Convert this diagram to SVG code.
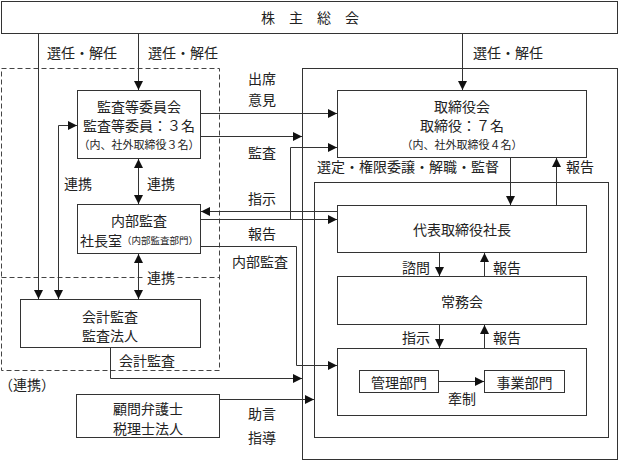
<svg xmlns="http://www.w3.org/2000/svg" width="621" height="462" viewBox="0 0 621 462">
<style>
text{font-family:"Noto Sans CJK JP","Noto Sans CJK SC",sans-serif;fill:#222;font-size:14px;text-anchor:middle;dominant-baseline:central}
.sm{font-size:11px}
.xs{font-size:9.5px}
.box{fill:#fff;stroke:#333;stroke-width:1}
.frame{fill:none;stroke:#333;stroke-width:1}
.dash{fill:none;stroke:#444;stroke-width:1;stroke-dasharray:5 3}
.c{fill:none;stroke:#333;stroke-width:1;marker-end:url(#ah)}
.b{fill:none;stroke:#333;stroke-width:1;marker-end:url(#ah);marker-start:url(#ah)}
</style>
<defs>
<marker id="ah" markerUnits="userSpaceOnUse" markerWidth="9" markerHeight="9" refX="9" refY="4.5" orient="auto-start-reverse">
<path d="M0,0 L9,4.5 L0,9 z" fill="#111"/>
</marker>
</defs>
<rect width="621" height="462" fill="#fff"/>

<g id="frames">
<rect class="frame" x="302.5" y="68.5" width="315" height="391"/>
<rect class="frame" x="314.5" y="182.5" width="294" height="255"/>
<rect class="dash" x="1.5" y="68.5" width="218" height="302"/>
<line class="dash" x1="1.5" y1="277.5" x2="219.5" y2="277.5"/>
</g>

<g id="shareholders">
<rect class="box" x="1.5" y="1.5" width="616" height="32"/>
<text x="310" y="17">株　主　総　会</text>
</g>

<g id="audit-committee">
<rect class="box" x="77.5" y="90.5" width="123" height="68"/>
<text x="139" y="106">監査等委員会</text>
<text x="139" y="125">監査等委員：３名</text>
<text class="sm" x="139" y="144">（内、社外取締役３名）</text>
</g>

<g id="board">
<rect class="box" x="337.5" y="90.5" width="249" height="67"/>
<text x="462" y="106">取締役会</text>
<text x="462" y="125">取締役：７名</text>
<text class="sm" x="462" y="144">（内、社外取締役４名）</text>
</g>

<g id="internal-audit">
<rect class="box" x="77.5" y="204.5" width="123" height="49"/>
<text x="139" y="220">内部監査</text>
<text x="139" y="240">社長室<tspan class="xs">（内部監査部門）</tspan></text>
</g>

<g id="accounting-audit">
<rect class="box" x="20.5" y="299.5" width="180" height="48"/>
<text x="110" y="316">会計監査</text>
<text x="110" y="335">監査法人</text>
</g>

<g id="advisors">
<rect class="box" x="76.5" y="394.5" width="143" height="43"/>
<text x="148" y="408">顧問弁護士</text>
<text x="148" y="428">税理士法人</text>
</g>

<g id="president">
<rect class="box" x="337.5" y="205.5" width="249" height="47"/>
<text x="462" y="229">代表取締役社長</text>
</g>

<g id="executive-committee">
<rect class="box" x="337.5" y="276.5" width="249" height="48"/>
<text x="462" y="301">常務会</text>
</g>

<g id="departments">
<rect class="box" x="337.5" y="348.5" width="249" height="67"/>
</g>

<g id="admin-dept">
<rect class="box" x="359.5" y="370.5" width="79" height="22"/>
<text x="399" y="381.5">管理部門</text>
</g>

<g id="business-dept">
<rect class="box" x="484.5" y="370.5" width="80" height="22"/>
<text x="524.5" y="381.5">事業部門</text>
</g>

<g id="connectors">
<line class="c" x1="38.5" y1="34" x2="38.5" y2="299"/>
<line class="c" x1="138.5" y1="34" x2="138.5" y2="90"/>
<line class="c" x1="462.5" y1="34" x2="462.5" y2="90"/>
<path class="b" d="M58.5,299 L58.5,125.5 L77,125.5"/>
<line class="b" x1="138.5" y1="159" x2="138.5" y2="204"/>
<line class="b" x1="138.5" y1="254" x2="138.5" y2="299"/>
<line class="c" x1="201" y1="113.5" x2="337" y2="113.5"/>
<line class="c" x1="201" y1="136.5" x2="302" y2="136.5"/>
<line class="c" x1="337" y1="211.5" x2="201" y2="211.5"/>
<line class="c" x1="201" y1="219.5" x2="337" y2="219.5"/>
<path class="c" d="M290.5,219.5 L290.5,147.5 L337,147.5"/>
<path class="c" d="M201,246.5 L296.5,246.5 L296.5,365.5 L337,365.5"/>
<path class="c" d="M110.5,348 L110.5,378.5 L302,378.5"/>
<line class="c" x1="220" y1="399.5" x2="314" y2="399.5"/>
<line class="c" x1="510.5" y1="158" x2="510.5" y2="205"/>
<line class="c" x1="556.5" y1="205" x2="556.5" y2="158"/>
<line class="c" x1="439.5" y1="253" x2="439.5" y2="276"/>
<line class="c" x1="484.5" y1="276" x2="484.5" y2="253"/>
<line class="c" x1="439.5" y1="325" x2="439.5" y2="348"/>
<line class="c" x1="484.5" y1="348" x2="484.5" y2="325"/>
<line class="c" x1="439" y1="381.5" x2="484" y2="381.5"/>
</g>

<g id="labels">
<text x="82" y="52">選任・解任</text>
<text x="183" y="52">選任・解任</text>
<text x="508" y="52">選任・解任</text>
<text x="262" y="78">出席</text>
<text x="262" y="99">意見</text>
<text x="262" y="152">監査</text>
<text x="262" y="198">指示</text>
<text x="262" y="233">報告</text>
<text x="260" y="261">内部監査</text>
<text x="78" y="183">連携</text>
<text x="161" y="183">連携</text>
<rect x="145" y="270" width="32" height="14" fill="#fff"/>
<text x="161" y="277">連携</text>
<text x="147" y="360">会計監査</text>
<text x="27" y="384">（連携）</text>
<text x="262" y="413">助言</text>
<text x="262" y="437">指導</text>
<text x="408" y="166">選定・権限委譲・解職・監督</text>
<text x="580" y="166">報告</text>
<text x="416" y="267">諮問</text>
<text x="507" y="267">報告</text>
<text x="416" y="337">指示</text>
<text x="507" y="337">報告</text>
<text x="462" y="398">牽制</text>
</g>
</svg>
